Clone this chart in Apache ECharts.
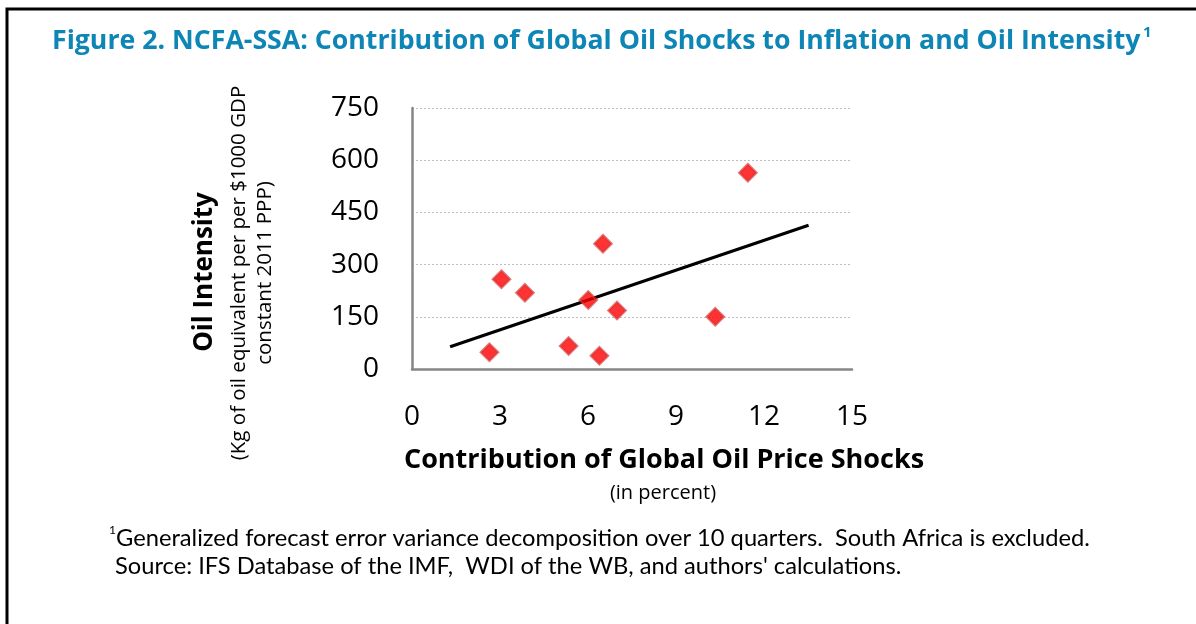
<!DOCTYPE html>
<html><head><meta charset="utf-8">
<script src="https://cdn.jsdelivr.net/npm/echarts@6/dist/echarts.min.js"></script>
<style>html,body{margin:0;padding:0;background:#fff}#c{width:1196px;height:624px}</style>
</head><body><div id="c"></div>
<script>
// Data
const shockContribution = [11.45, 6.51, 3.05, 3.85, 6.01, 6.99, 10.34, 2.64, 5.34, 6.39];
const oilIntensity      = [564, 360, 258, 219, 198, 168, 150, 48, 66, 38];
const trendX = [1.3, 13.52];
const trendY = [64, 413];
const xTicks = [0, 3, 6, 9, 12, 15];
const yTicks = [0, 150, 300, 450, 600, 750];

const chart = echarts.init(document.getElementById('c'), null, {renderer: 'canvas'});
const font = '"Open Sans", "Noto Sans", sans-serif';
const noteFont = 'Lato, "Open Sans", sans-serif';
chart.setOption({
  animation: false,
  backgroundColor: '#fff',
  grid: {left: 412, top: 108, width: 440, height: 261, containLabel: false},
  xAxis: {
    type: 'value', min: xTicks[0], max: xTicks[xTicks.length-1], interval: 3,
    axisLine: {show: true, lineStyle: {color: '#868686', width: 2.5}},
    axisTick: {show: false},
    splitLine: {show: false},
    axisLabel: {margin: 34, fontSize: 28, color: '#000', fontFamily: font}
  },
  yAxis: {
    type: 'value', min: yTicks[0], max: yTicks[yTicks.length-1], interval: 150,
    axisLine: {show: true, lineStyle: {color: '#868686', width: 2.5}},
    axisTick: {show: false},
    splitLine: {show: true, lineStyle: {color: '#BDBDBD', type: [2, 2], width: 1}},
    axisLabel: {margin: 33, fontSize: 28, color: '#000', fontFamily: font}
  },
  series: [
    {
      type: 'line', data: trendX.map((x, i) => [x, trendY[i]]),
      symbol: 'none', lineStyle: {color: '#000', width: 3}, z: 3
    },
    {
      type: 'scatter', data: shockContribution.map((x, i) => [x, oilIntensity[i]]),
      symbol: 'diamond', symbolSize: 17,
      itemStyle: {color: '#FF0000', borderColor: 'rgba(220,50,50,0.85)', borderWidth: 2.5}, z: 4
    }
  ],
  graphic: [
    {type: 'polyline', shape: {points: [[7, 700], [7, 9], [1200, 9]]}, style: {stroke: '#000', lineWidth: 3, fill: null}},
    {type: 'text', x: 52, y: 41, style: {text: 'Figure 2. NCFA-SSA: Contribution of Global Oil Shocks to Inflation and Oil Intensity', font: 'bold 26.7px ' + font, fill: '#0E86B5', verticalAlign: 'middle'}},
    {type: 'text', x: 1143, y: 33, style: {text: '1', font: 'bold 15px ' + font, fill: '#0E86B5', verticalAlign: 'middle'}},
    {type: 'text', x: 205, y: 272, rotation: Math.PI/2, style: {text: 'Oil Intensity', font: 'bold 26px ' + font, fill: '#000', align: 'center', verticalAlign: 'middle'}},
    {type: 'text', x: 239, y: 273, rotation: Math.PI/2, style: {text: '(Kg of oil equivalent per per $1000 GDP', font: '20.5px ' + font, fill: '#000', align: 'center', verticalAlign: 'middle'}},
    {type: 'text', x: 265, y: 273, rotation: Math.PI/2, style: {text: 'constant 2011 PPP)', font: '20.5px ' + font, fill: '#000', align: 'center', verticalAlign: 'middle'}},
    {type: 'text', x: 664, y: 460, style: {text: 'Contribution of Global Oil Price Shocks', font: 'bold 27px ' + font, fill: '#000', align: 'center', verticalAlign: 'middle'}},
    {type: 'text', x: 663, y: 493, style: {text: '(in percent)', font: '20px ' + font, fill: '#000', align: 'center', verticalAlign: 'middle'}},
    {type: 'text', x: 109, y: 530, style: {text: '1', font: '12px ' + noteFont, fill: '#000', verticalAlign: 'middle'}},
    {type: 'text', x: 116, y: 538, style: {text: 'Generalized forecast error variance decomposition over 10 quarters.  South Africa is excluded.', font: '23.7px ' + noteFont, fill: '#000', verticalAlign: 'middle'}},
    {type: 'text', x: 115, y: 566, style: {text: 'Source: IFS Database of the IMF,  WDI of the WB, and authors\' calculations.', font: '23.7px ' + noteFont, fill: '#000', verticalAlign: 'middle'}}
  ]
});
</script></body></html>
